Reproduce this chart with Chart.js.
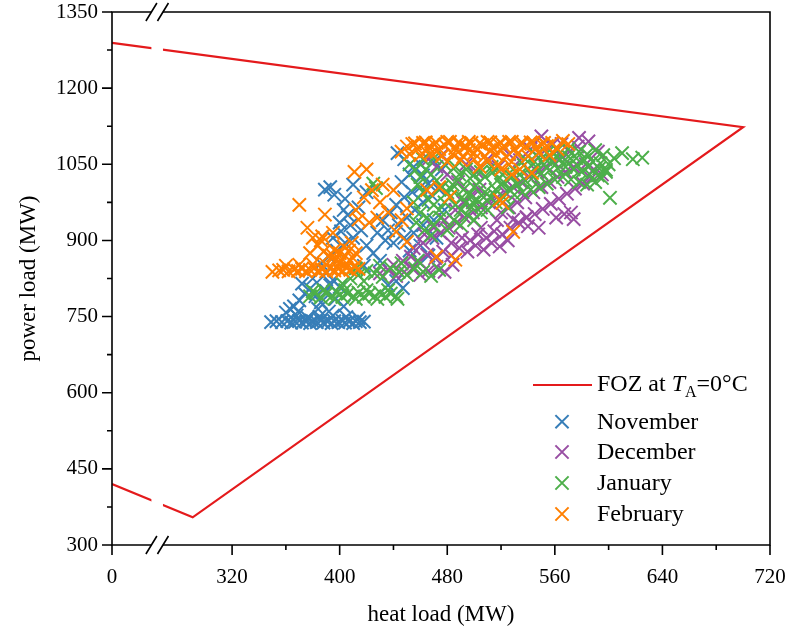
<!DOCTYPE html>
<html><head><meta charset="utf-8">
<script src="https://cdn.jsdelivr.net/npm/chart.js@4.4.1/dist/chart.umd.min.js"></script>
<style>html,body{margin:0;padding:0;background:#fff}#wrap{width:790px;height:635px}</style>
</head><body><div id="wrap"><canvas id="c" width="790" height="635"></canvas></div>
<script>
const FONT = '"Liberation Serif", "Times New Roman", serif';

// ---- axis ticks (real heat load / power load values) ----
const xTickValues = [0, 320, 400, 480, 560, 640, 720];
const xTickLabels = ['0', '320', '400', '480', '560', '640', '720'];
const xMinorValues = [360, 440, 520, 600, 680];
const yTickValues = [300, 450, 600, 750, 900, 1050, 1200, 1350];
const yTickLabels = ['300', '450', '600', '750', '900', '1050', '1200', '1350'];
const yMinorValues = [375, 525, 675, 825, 975, 1125, 1275];

// ---- FOZ polygon at TA = 0 °C (heat load, power load) ----
const fozHeat  = [0, 700, 290.7, 0];
const fozPower = [1289, 1123, 354.5, 420];

// ---- measured operating points [heat load MW, power load MW] ----
const november = [
 [349,739],[353,741],
 [357,739],[361,741],[364,738],[367,740],[370,742],[372,738],[375,740],[378,737],[380,741],[383,739],[386,742],[388,738],
 [391,740],[394,737],[396,741],[399,739],[402,742],[404,738],[407,740],[410,737],[412,741],[415,739],[418,740],
 [368,752],[376,748],[385,750],[395,752],[405,749],[414,747],[360,758],[363,765],
 [366,770],[370,782],[374,795],[378,805],[382,790],[386,778],[390,800],[393,812],[397,785],[372,815],[380,825],[388,830],
 [395,822],[400,808],[369,760],[384,765],[392,760],[403,770],[436,812],[442,820],[447,806],
 [386,855],[392,868],[398,880],[404,895],[410,905],[416,920],[395,905],[401,918],[408,930],[420,890],[425,875],[430,860],
 [434,900],[428,915],[418,850],
 [389,1000],[393,1005],[396,990],[404,982],[410,1010],[420,995],[406,950],[400,935],[414,965],[403,960],
 [443,1072],[448,1060],[455,1045],[460,1050],[452,1030],[446,1015],[462,1028],[470,1055],[476,1040],
 [432,940],[438,955],[442,970],[448,985],[454,995],[460,1005],[466,1012],[436,920],[444,930],[450,945],[456,960],[462,975],
 [468,990],[474,1000],[440,895],[448,905],[455,915],[462,930],[470,940],[478,960],[452,880],[460,890],[466,870],[472,905],[458,860]
];
const december = [
 [430,835],[436,842],[442,830],[448,838],[454,845],[460,832],[466,840],[472,848],[478,838],[484,852],[440,852],[447,860],
 [453,868],[459,858],[465,872],[471,865],[477,878],[483,870],[489,885],[495,878],[501,890],[507,882],[513,895],[519,888],
 [525,900],[497,900],[503,912],[509,905],[515,918],[521,912],[527,925],[455,885],[462,895],[469,905],[475,915],[481,925],
 [487,935],[493,945],[499,955],[505,965],[511,975],[517,985],[523,995],[529,1005],[535,1015],[541,1025],[547,1035],
 [553,1045],[559,1055],[565,1065],[571,1075],[577,1085],[533,935],[539,945],[545,952],[551,962],[557,972],[563,982],
 [569,992],[575,1002],[581,1012],[587,1022],[561,945],[567,952],[574,942],[540,928],[548,925],[550,1105],[578,1102],
 [585,1095],[565,1090],[592,1075],[583,1050],[589,1040],[595,1030],[466,1060],[472,1045],[476,1068],[480,1030],[488,1015],
 [494,1050],[502,1035],[510,1060],[518,1045],[526,1070],[534,1058],[542,1080],[550,1070],[558,1088],[486,960],[492,975],
 [498,990],[504,1000],[478,940],[470,925],[463,912],[520,955],[526,965],[532,975],[538,985],[544,995],[550,1005],
 [556,1015],[562,1025],[568,1035],[574,1045],[529,941],[539,946],[572,955],[491,905],[505,925],[517,940],[483,895]
];
const january = [
 [378,790],[382,796],[386,788],[390,795],[394,790],[398,797],[402,789],[406,795],[410,790],[414,797],[418,789],[422,795],
 [426,790],[430,797],[434,789],[438,795],[442,790],[380,800],[388,802],[396,785],[404,802],[412,785],[420,802],[428,785],
 [436,802],[443,785],
 [402,815],[408,825],[414,832],[420,840],[426,835],[432,828],[438,845],[444,838],[450,832],[456,845],[462,838],[468,830],
 [474,842],[412,845],[418,820],[430,850],[446,855],[458,860],[425,1012],[427,1003],
 [452,1050],[456,1038],[460,1025],[464,1040],[468,1030],[472,1018],[476,1005],[480,995],[484,1010],[488,1020],[492,1000],
 [496,990],[500,1005],[504,1015],[508,995],[512,985],[516,1000],[520,1010],[458,1010],[462,995],[466,980],[470,970],
 [474,960],[478,975],[482,985],[486,970],[490,960],[494,975],[498,965],[502,980],[506,970],[510,960],[455,975],[460,955],
 [465,945],[470,930],[475,945],[480,920],[485,940],[490,930],[495,950],[500,940],[505,955],[457,935],[463,920],[468,910],
 [462,1060],[470,1062],[478,1050],[486,1045],[494,1040],[500,1030],[508,1025],[514,1035],[518,1020],
 [522,1015],[528,1025],[534,1030],[540,1040],[546,1045],[552,1050],[558,1055],[564,1060],[570,1065],[576,1062],[582,1058],
 [588,1055],[594,1052],[600,1050],[526,1000],[532,1010],[538,1018],[544,1025],[550,1032],[556,1038],[562,1042],[568,1045],
 [574,1040],[580,1035],[586,1030],[592,1028],[598,1035],[530,990],[536,995],[542,1000],[548,1005],[554,1012],[560,1020],
 [566,1025],[572,1020],[578,1015],[584,1010],[590,1015],[538,1060],[546,1068],[554,1072],[562,1078],[570,1080],[578,1075],
 [584,1070],[590,1078],[596,1068],[604,1062],[610,1072],[618,1060],[625,1063],[601,984],[595,1023],[598,1039],[522,985],
 [516,975],[525,965],[489,1030],[497,1022],[505,1035],[513,1045],[521,1030],[529,1040],[537,1048],[545,1055],[553,1060],
 [561,1065],[569,1055],[577,1048],[585,1045],[593,1042],[483,1000],[491,985],[499,975],[507,985],[515,990]
];
const february = [
 [350,838],[355,841],[358,842],[362,839],[366,843],[369,840],[372,844],[375,839],[378,842],[381,845],[384,840],[387,843],[390,839],
 [393,845],[396,841],[399,844],[402,840],[405,846],[408,842],[411,848],[414,844],[360,850],[370,852],[380,853],[390,852],
 [400,855],[401,860],[404,870],[407,880],[410,865],[403,888],[409,895],[412,875],[405,855],[400,875],[397,862],[395,870],
 [370,970],[376,925],[380,905],[384,890],[388,878],[392,870],[378,875],[386,900],[395,915],[387,908],[389,951],[396,881],
 [411,1035],[414,941],[424,999],[422,935],[440,999],[450,963],[465,999],[474,1005],[482,986],[418,985],[430,975],[436,955],
 [428,945],[446,940],[442,917],[450,897],[472,868],[486,862],[529,917],[412,960],[420,1040],[432,1010],[521,974],[519,980],
 [446,1075],[450,1085],[454,1090],[458,1080],[462,1092],[466,1084],[470,1090],[474,1080],[478,1088],[482,1094],[486,1082],
 [490,1090],[494,1085],[498,1092],[502,1080],[506,1088],[510,1094],[514,1082],[518,1090],[522,1086],[526,1094],[530,1080],
 [534,1090],[538,1085],[542,1093],[546,1082],[550,1090],[554,1086],[558,1092],[562,1080],[566,1096],[570,1090],
 [452,1070],[460,1068],[468,1072],[476,1066],[484,1070],[492,1065],[500,1072],[508,1066],[516,1070],[524,1064],[532,1070],
 [540,1066],[548,1072],[556,1068],[510,1055],[518,1050],[504,1045],[526,1050],[534,1040],[543,1033],[500,1060],[490,1058],
 [480,1055],[520,1040],[528,1030],[456,1091],[464,1093],[472,1092],[480,1094],[488,1092],[496,1094],[504,1091],[512,1093],
 [520,1092],[528,1094],[536,1091],[544,1093],[552,1092],[464,1076],[472,1075],[488,1074],[496,1078],[512,1076],[520,1078]
];

const RED = '#e41a1c', BLUE = '#377eb8', PURPLE = '#984ea3', GREEN = '#4daf4a', ORANGE = '#ff7f00';

// ---- broken heat-load axis: heat 0 is drawn at axis coordinate SEG0_START ----
const SEG0_START = 230.7;
const BREAK_LEFT = 260.0, BREAK_RIGHT = 268.6;
function axisX(h) { return h < BREAK_LEFT - SEG0_START ? SEG0_START + h : h; }
const toPts = arr => arr.map(([h, p]) => ({ x: axisX(h), y: p }));

const axesPlugin = {
  id: 'axesDecor',
  afterDatasetsDraw(chart) {
    const { ctx, chartArea: a, scales: { x, y } } = chart;
    ctx.save();
    ctx.strokeStyle = '#000'; ctx.lineWidth = 1.6; ctx.lineCap = 'butt';
    ctx.beginPath();
    ctx.rect(a.left, a.top, a.right - a.left, a.bottom - a.top);
    ctx.stroke();
    ctx.beginPath();
    yTickValues.forEach(v => { const py = y.getPixelForValue(v); ctx.moveTo(a.left - 10, py); ctx.lineTo(a.left, py); });
    yMinorValues.forEach(v => { const py = y.getPixelForValue(v); ctx.moveTo(a.left - 5, py); ctx.lineTo(a.left, py); });
    xTickValues.forEach(v => { const px = x.getPixelForValue(axisX(v)); ctx.moveTo(px, a.bottom); ctx.lineTo(px, a.bottom + 10); });
    xMinorValues.forEach(v => { const px = x.getPixelForValue(axisX(v)); ctx.moveTo(px, a.bottom); ctx.lineTo(px, a.bottom + 5); });
    ctx.stroke();
    // break gap
    const b1 = x.getPixelForValue(BREAK_LEFT), b2 = x.getPixelForValue(BREAK_RIGHT);
    ctx.fillStyle = '#fff';
    ctx.fillRect(b1, a.top - 2, b2 - b1, a.bottom - a.top + 4);
    ctx.beginPath();
    [a.top, a.bottom].forEach(yy => {
      [b1, b2].forEach(bx => { ctx.moveTo(bx - 5.5, yy + 9); ctx.lineTo(bx + 5.5, yy - 9); });
    });
    ctx.stroke();
    ctx.restore();
  }
};

const legendPlugin = {
  id: 'customLegend',
  afterDraw(chart) {
    const ctx = chart.ctx;
    ctx.save();
    const ds = chart.data.datasets;
    const textX = 597;
    // FOZ row
    const y0 = 385;
    ctx.strokeStyle = ds[0].borderColor; ctx.lineWidth = 2.2;
    ctx.beginPath(); ctx.moveTo(533, y0); ctx.lineTo(592, y0); ctx.stroke();
    ctx.fillStyle = '#000'; ctx.textBaseline = 'middle'; ctx.textAlign = 'left';
    let tx = textX;
    ctx.font = '24px ' + FONT;
    const parts = ['FOZ at ', 'T', 'A', '=0°C'];
    ctx.fillText(parts[0], tx, y0); tx += ctx.measureText(parts[0]).width;
    ctx.font = 'italic 24px ' + FONT;
    ctx.fillText(parts[1], tx, y0); tx += ctx.measureText(parts[1]).width;
    ctx.font = '16px ' + FONT;
    ctx.fillText(parts[2], tx, y0 + 8); tx += ctx.measureText(parts[2]).width;
    ctx.font = '24px ' + FONT;
    ctx.fillText(parts[3], tx, y0);
    // month rows
    const rows = [421.7, 452, 483, 514];
    for (let i = 1; i < ds.length; i++) {
      const yy = rows[i - 1], cx = 562, h = 6.6;
      ctx.strokeStyle = ds[i].borderColor; ctx.lineWidth = 2;
      ctx.beginPath();
      ctx.moveTo(cx - h, yy - h); ctx.lineTo(cx + h, yy + h);
      ctx.moveTo(cx - h, yy + h); ctx.lineTo(cx + h, yy - h);
      ctx.stroke();
      ctx.fillStyle = '#000'; ctx.font = '24px ' + FONT;
      ctx.fillText(ds[i].label, textX, yy + 1);
    }
    ctx.restore();
  }
};

const marker = (label, arr, color, order) => ({
  label, data: toPts(arr), order,
  pointStyle: 'crossRot', pointRadius: 9.4, pointHoverRadius: 9.4,
  borderColor: color, backgroundColor: color, pointBorderWidth: 2, showLine: false
});

new Chart(document.getElementById('c'), {
  type: 'scatter',
  data: {
    datasets: [
      { label: 'FOZ at TA=0°C', data: fozHeat.map((h, i) => ({ x: axisX(h), y: fozPower[i] })),
        showLine: true, borderColor: RED, backgroundColor: RED, borderWidth: 2.2, pointRadius: 0, tension: 0, fill: false, order: 0 },
      marker('November', november, BLUE, 4),
      marker('December', december, PURPLE, 3),
      marker('January', january, GREEN, 2),
      marker('February', february, ORANGE, 1)
    ]
  },
  options: {
    responsive: false, animation: false, devicePixelRatio: 1,
    layout: { padding: { left: 0, right: 20, top: 12, bottom: 0 } },
    plugins: { legend: { display: false }, tooltip: { enabled: false } },
    scales: {
      x: {
        type: 'linear', min: SEG0_START, max: 720,
        grid: { display: false, drawTicks: false }, border: { display: false },
        afterBuildTicks: s => { s.ticks = xTickValues.map(v => ({ value: axisX(v) })); },
        ticks: { autoSkip: false, maxRotation: 0, padding: 20, color: '#000', font: { family: FONT, size: 21 },
                 callback: (v, i) => xTickLabels[i] },
        title: { display: true, text: 'heat load (MW)', color: '#000', font: { family: FONT, size: 23 }, padding: { top: 6, bottom: 6 } },
        afterFit: s => { s.height = 90; s.paddingLeft = 0; s.paddingRight = 0; }
      },
      y: {
        type: 'linear', min: 300, max: 1350,
        grid: { display: false, drawTicks: false }, border: { display: false },
        afterBuildTicks: s => { s.ticks = yTickValues.map(v => ({ value: v })); },
        ticks: { autoSkip: false, padding: 14, color: '#000', font: { family: FONT, size: 21 },
                 callback: (v, i) => yTickLabels[i] },
        title: { display: true, text: 'power load (MW)', color: '#000', font: { family: FONT, size: 23 }, padding: { top: 15, bottom: 4 } },
        afterFit: s => { s.width = 112; s.paddingTop = 0; s.paddingBottom = 0; }
      }
    }
  },
  plugins: [axesPlugin, legendPlugin]
});
</script></body></html>
